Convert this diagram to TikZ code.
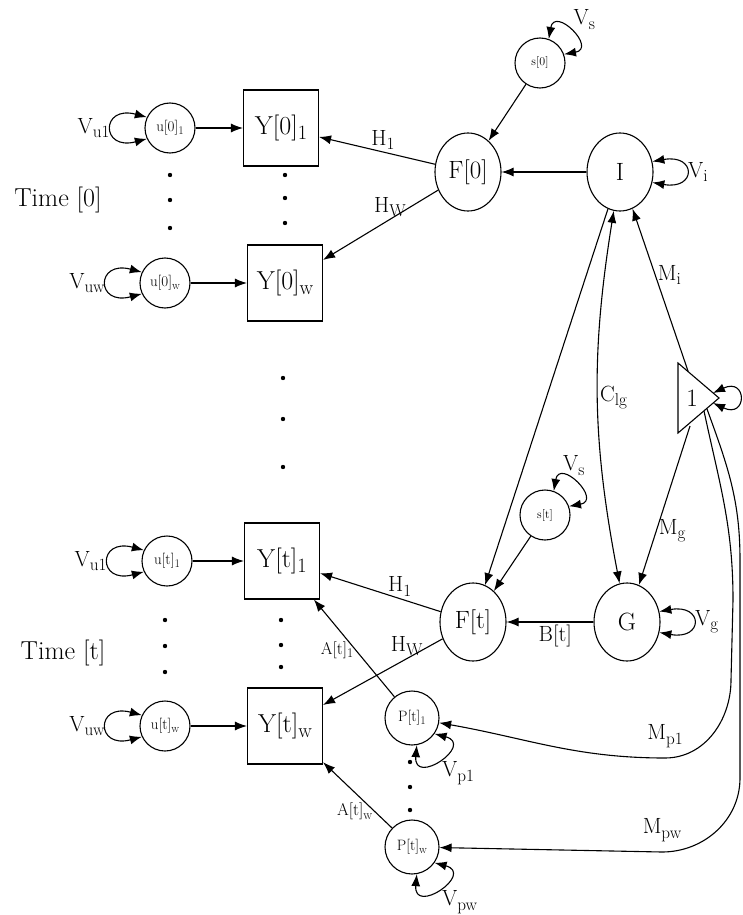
\documentclass[tikz,border=0pt]{standalone}
\usepackage{fontspec}
\usepackage{graphicx}
\usetikzlibrary{arrows.meta,shapes.geometric}
\newcommand{\sbs}[1]{\raisebox{-0.45ex}{\scalebox{0.78}{#1}}}
\tikzset{
  latent/.style={draw, circle, minimum size=50pt, inner sep=0pt, font=\fontsize{15}{17}\selectfont},
  seas/.style={draw, circle, minimum size=50pt, inner sep=0pt, font=\fontsize{12}{14}\selectfont},
  factor/.style={draw, ellipse, minimum width=66pt, minimum height=78pt, inner sep=0pt, font=\fontsize{25}{27}\selectfont},
  obsbox/.style={draw, rectangle, minimum width=75pt, minimum height=76pt, inner sep=0pt, font=\fontsize{26}{28}\selectfont},
  elab/.style={font=\fontsize{22}{24}\selectfont, inner sep=2pt},
  alab/.style={font=\fontsize{17}{19}\selectfont, inner sep=2pt},
  timelab/.style={font=\fontsize{26}{28}\selectfont}
}
\begin{document}
\begin{tikzpicture}[x=1pt,y=1pt,line width=1.1pt,>={Latex[length=12pt,width=9pt]}]
\useasboundingbox (0,0) rectangle (742,-915);
% time [0]
\node[latent] (u01) at (170,-128) {u[0]\sbs{1}};
\node[latent] (u0w) at (165,-283) {u[0]\sbs{w}};
\node[obsbox] (Y01) at (281,-128) {Y[0]\sbs{1}};
\node[obsbox] (Y0w) at (285,-283) {Y[0]\sbs{w}};
\node[seas] (s0) at (540,-63) {s[0]};
\node[factor] (F0) at (468,-172) {F[0]};
\node[factor] (I) at (620,-172) {I};
\node[timelab] (t0) at (58,-200) {Time [0]};
% constant node
\coordinate (triA) at (678,-363);
\coordinate (triB) at (678,-433);
\coordinate (triC) at (719,-398);
\draw (triA) -- (triC) -- (triB) -- cycle;
\node[font=\fontsize{25}{27}\selectfont] (one) at (692,-398) {1};
\coordinate (triMi) at (688,-371);
\coordinate (triMg) at (690,-426);
\coordinate (triP1) at (704,-411);
\coordinate (triPw) at (707,-409);
\coordinate (triL1) at (713,-393);
\coordinate (triL2) at (713,-403);
% time [t]
\node[latent] (ut1) at (167,-561) {u[t]\sbs{1}};
\node[latent] (utw) at (165,-726) {u[t]\sbs{w}};
\node[obsbox] (Yt1) at (282,-561) {Y[t]\sbs{1}};
\node[obsbox] (Ytw) at (285,-726) {Y[t]\sbs{w}};
\node[seas] (st) at (545,-515) {s[t]};
\node[factor] (Ft) at (473,-622) {F[t]};
\node[factor] (G) at (627,-622) {G};
\node[latent, minimum size=54pt] (Pt1) at (412,-718) {P[t]\sbs{1}};
\node[latent, minimum size=54pt] (Ptw) at (412,-847) {P[t]\sbs{w}};
\node[timelab] (tt) at (63,-653) {Time [t]};
% dots
\foreach \gy in {175,200,228} \fill (170,-\gy) circle[radius=2.2pt];
\foreach \gy in {175,198,223} \fill (285,-\gy) circle[radius=2.2pt];
\foreach \gy in {378,419,467} \fill (283,-\gy) circle[radius=2.2pt];
\foreach \gy in {620,646,672} \fill (165,-\gy) circle[radius=2.2pt];
\foreach \gy in {620,645,667} \fill (281,-\gy) circle[radius=2.2pt];
\foreach \gy in {762,787,810} \fill (410,-\gy) circle[radius=2.2pt];
% arrows time [0]
\draw[->] (u01) -- (Y01);
\draw[->] (u0w) -- (Y0w);
\draw[->] (s0) -- (F0);
\draw[->] (I) -- (F0);
\draw[->] (F0) -- (Y01) node[elab,pos=0.45,above]{H\sbs{1}};
\draw[->] (F0) -- (Y0w) node[elab,pos=0.42,above]{H\sbs{W}};
% arrows time [t]
\draw[->] (ut1) -- (Yt1);
\draw[->] (utw) -- (Ytw);
\draw[->] (I) -- (Ft);
\draw[<->] (I) to[bend right=10] node[elab,right]{C\sbs{lg}} (G);
\draw[->] (triMi) -- (I) node[elab,pos=0.59,right]{M\sbs{i}};
\draw[->] (triMg) -- (G) node[elab,pos=0.66,right]{M\sbs{g}};
\draw[->] (st) -- (Ft);
\draw[->] (G) -- (Ft) node[elab,pos=0.44,below]{B[t]};
\draw[->] (Ft) -- (Yt1) node[elab,pos=0.34,above]{H\sbs{1}};
\draw[->] (Ft) -- (Ytw) node[elab,pos=0.3,above]{H\sbs{W}};
\draw[->] (Pt1) -- (Yt1) node[alab,pos=0.48,left]{A[t]\sbs{1}};
\draw[->] (Ptw) -- (Ytw) node[alab,pos=0.25,left]{A[t]\sbs{w}};
\draw[->] (triP1) to[out=-78,in=90] (733,-600) -- (731,-680) to[out=-90,in=0] (665,-758) node[elab,above=8pt]{M\sbs{p1}} to[out=180,in=-10] (Pt1);
\draw[->] (triPw) to[out=-70,in=90] (740,-560) -- (740,-778) to[out=-90,in=0] (662,-852) node[elab,above=8pt]{M\sbs{pw}} -- (Ptw);
% self loops
\draw[<->] (u01.155) .. controls +(165:48) and +(195:48) .. (u01.205) node[elab,midway,left]{V\sbs{u1}};
\draw[<->] (u0w.155) .. controls +(165:48) and +(195:48) .. (u0w.205) node[elab,midway,left]{V\sbs{uw}};
\draw[<->] (ut1.155) .. controls +(165:48) and +(195:48) .. (ut1.205) node[elab,midway,left]{V\sbs{u1}};
\draw[<->] (utw.155) .. controls +(165:48) and +(195:48) .. (utw.205) node[elab,midway,left]{V\sbs{uw}};
\draw[<->] (s0.70) .. controls +(80:34) and +(10:34) .. (s0.20) node[elab,midway,above right]{V\sbs{s}};
\draw[<->] (st.70) .. controls +(80:34) and +(10:34) .. (st.20) node[elab,pos=0.45,above=4pt]{V\sbs{s}};
\draw[<->] (I.18) .. controls +(10:45) and +(-10:45) .. (I.-18) node[elab,midway,right]{V\sbs{i}};
\draw[<->] (G.18) .. controls +(10:45) and +(-10:45) .. (G.-18) node[elab,midway,right]{V\sbs{g}};
\draw[<->] (triL1) .. controls +(25:38) and +(-25:38) .. (triL2);
\draw[<->] (Pt1.-80) .. controls +(-95:42) and +(-15:42) .. (Pt1.-35) node[elab,midway,below right]{V\sbs{p1}};
\draw[<->] (Ptw.-80) .. controls +(-95:42) and +(-15:42) .. (Ptw.-35) node[elab,midway,below right]{V\sbs{pw}};
\end{tikzpicture}
\end{document}
